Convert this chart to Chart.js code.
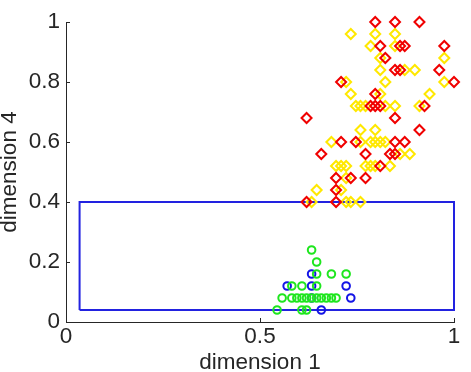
<!DOCTYPE html>
<html>
<head>
<meta charset="utf-8">
<script src="https://cdn.jsdelivr.net/npm/chart.js@4.4.1/dist/chart.umd.min.js"></script>
<style>
  html, body { margin: 0; padding: 0; background: #fff; }
  #wrap { width: 471px; height: 372px; }
</style>
</head>
<body>
<div id="wrap"><canvas id="plot" width="471" height="372"></canvas></div>
<script>
// points (dimension 1, dimension 4)
const redX = [0.797, 0.848, 0.911, 0.810, 0.861, 0.873, 0.975, 0.823, 0.848, 0.861, 0.962, 0.709, 1.0,
  0.797, 0.785, 0.797, 0.810, 0.924, 0.620, 0.848, 0.911, 0.709, 0.747, 0.848, 0.873,
  0.658, 0.772, 0.835, 0.848, 0.810, 0.696, 0.734, 0.772, 0.696, 0.620, 0.696];
const redY = [1.0, 1.0, 1.0, 0.92, 0.92, 0.92, 0.92, 0.88, 0.84, 0.84, 0.84, 0.80, 0.80,
  0.76, 0.72, 0.72, 0.72, 0.72, 0.68, 0.68, 0.64, 0.60, 0.60, 0.60, 0.60,
  0.56, 0.56, 0.56, 0.56, 0.52, 0.48, 0.48, 0.48, 0.44, 0.40, 0.40];

const yellowX = [0.734, 0.797, 0.848, 0.785, 0.848, 0.810, 0.975, 0.810, 0.873, 0.899, 0.722, 0.823, 0.975,
  0.734, 0.810, 0.937, 0.747, 0.759, 0.772, 0.823, 0.848, 0.911, 0.759, 0.797,
  0.684, 0.759, 0.785, 0.797, 0.810, 0.823, 0.861, 0.886,
  0.696, 0.709, 0.722, 0.772, 0.785, 0.797, 0.835, 0.722, 0.646, 0.709, 0.633, 0.722, 0.734, 0.759];
const yellowY = [0.96, 0.96, 0.96, 0.92, 0.92, 0.88, 0.88, 0.84, 0.84, 0.84, 0.80, 0.80, 0.80,
  0.76, 0.76, 0.76, 0.72, 0.72, 0.72, 0.72, 0.72, 0.72, 0.64, 0.64,
  0.60, 0.60, 0.60, 0.60, 0.60, 0.60, 0.56, 0.56,
  0.52, 0.52, 0.52, 0.52, 0.52, 0.52, 0.52, 0.48, 0.44, 0.44, 0.40, 0.40, 0.40, 0.40];

const greenX = [0.633, 0.646, 0.646, 0.684, 0.722, 0.582, 0.608, 0.646,
  0.557, 0.582, 0.595, 0.608, 0.620, 0.633, 0.646, 0.658, 0.671, 0.684, 0.696, 0.544, 0.608, 0.620];
const greenY = [0.24, 0.20, 0.16, 0.16, 0.16, 0.12, 0.12, 0.12,
  0.08, 0.08, 0.08, 0.08, 0.08, 0.08, 0.08, 0.08, 0.08, 0.08, 0.08, 0.04, 0.04, 0.04];

const blueX = [0.633, 0.570, 0.633, 0.722, 0.633, 0.734, 0.658];
const blueY = [0.16, 0.12, 0.12, 0.12, 0.08, 0.08, 0.04];

// the box drawn in blue
const boxX = [0.035, 1.0, 1.0, 0.035, 0.035];
const boxY = [0.04, 0.04, 0.4, 0.4, 0.04];

const xTicks = [0, 0.5, 1];
const yTicks = [0, 0.2, 0.4, 0.6, 0.8, 1];

function toPoints(xs, ys) {
  return xs.map((x, i) => ({ x: x, y: ys[i] }));
}

function markers(xs, ys, color, style, r) {
  return {
    data: toPoints(xs, ys),
    pointStyle: style,
    pointRadius: r,
    pointBorderWidth: 2,
    borderColor: color,
    backgroundColor: 'rgba(0,0,0,0)',
    showLine: false,
    clip: false
  };
}

const axisColor = '#262626';

// matlab style ticks pointing into the plot
const innerTicks = {
  id: 'innerTicks',
  afterDraw(chart) {
    const ctx = chart.ctx;
    const xs = chart.scales.x, ys = chart.scales.y;
    ctx.save();
    ctx.strokeStyle = axisColor;
    ctx.lineWidth = 1;
    ctx.beginPath();
    xTicks.forEach(v => {
      const px = Math.round(xs.getPixelForValue(v)) + 0.5;
      ctx.moveTo(px, ys.bottom);
      ctx.lineTo(px, ys.bottom - 4);
    });
    yTicks.forEach(v => {
      const py = Math.round(ys.getPixelForValue(v)) + 0.5;
      ctx.moveTo(xs.left, py);
      ctx.lineTo(xs.left + 4, py);
    });
    ctx.stroke();
    ctx.restore();
  }
};

const font = { family: 'Liberation Sans, Arial, sans-serif', size: 22.5 };

new Chart(document.getElementById('plot'), {
  type: 'scatter',
  data: {
    datasets: [
      markers(redX, redY, '#f00000', 'rectRot', 5),
      markers(yellowX, yellowY, '#ffe800', 'rectRot', 5),
      markers(greenX, greenY, '#1ee61e', 'circle', 3.8),
      markers(blueX, blueY, '#1414e6', 'circle', 3.8),
      {
        data: toPoints(boxX, boxY),
        showLine: true,
        borderColor: '#2222e0',
        borderWidth: 2,
        pointRadius: 0,
        fill: false,
        clip: false
      }
    ]
  },
  options: {
    responsive: false,
    animation: false,
    events: [],
    layout: { padding: { left: 0, right: 17, top: 22, bottom: 0 } },
    plugins: { legend: { display: false }, tooltip: { enabled: false } },
    scales: {
      x: {
        type: 'linear',
        min: 0, max: 1,
        afterBuildTicks: s => { s.ticks = xTicks.map(v => ({ value: v })); },
        afterFit: s => { s.height = 50; },
        grid: { display: false, drawTicks: false },
        border: { display: true, color: axisColor, width: 1 },
        ticks: { color: axisColor, font: font, padding: 1, maxRotation: 0,
          callback: v => String(v) },
        title: { display: true, text: 'dimension 1', color: axisColor, font: font,
          padding: { top: 0, bottom: -4 } }
      },
      y: {
        type: 'linear',
        min: 0, max: 1,
        afterBuildTicks: s => { s.ticks = yTicks.map(v => ({ value: v })); },
        afterFit: s => { s.width = 66; },
        grid: { display: false, drawTicks: false },
        border: { display: true, color: axisColor, width: 1 },
        ticks: { color: axisColor, font: font, padding: 6,
          callback: v => String(v) },
        title: { display: true, text: 'dimension 4', color: axisColor, font: font,
          padding: { top: -4, bottom: 0 } }
      }
    }
  },
  plugins: [innerTicks]
});
</script>
</body>
</html>
